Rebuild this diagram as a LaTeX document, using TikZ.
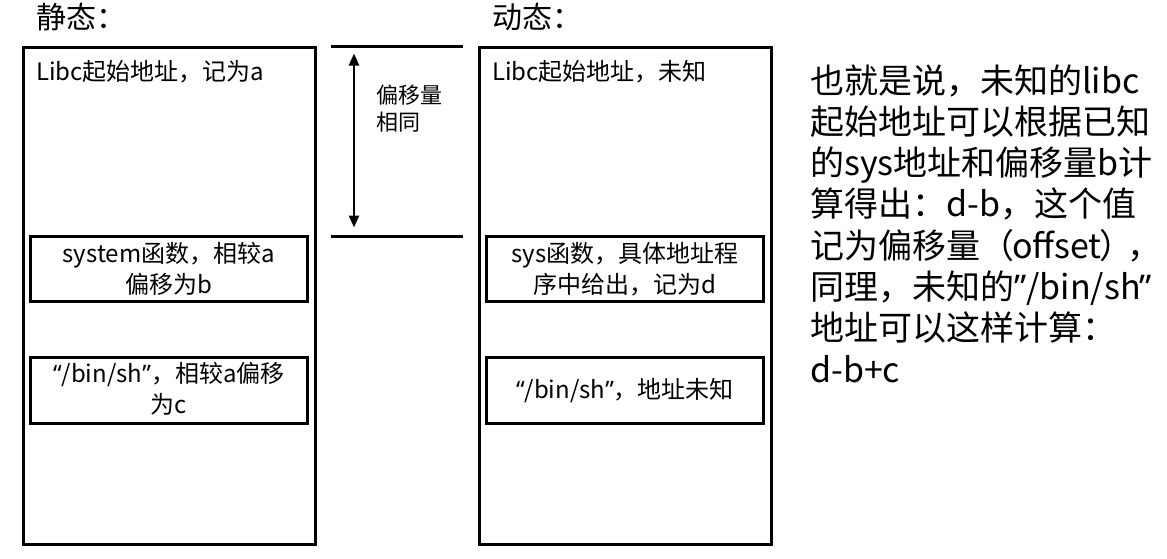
\documentclass[tikz,border=0pt]{standalone}
\usepackage{fontspec}
\setmainfont{Noto Sans CJK SC}
\newfontfamily\lat{Noto Sans}
\usetikzlibrary{arrows.meta}
\begin{document}
\begin{tikzpicture}[x=1pt,y=-1pt,
  bigbox/.style={draw, line width=3pt, inner sep=0pt, minimum width=292pt, minimum height=497pt},
  smallbox/.style={draw, line width=3pt, inner sep=0pt, minimum width=277pt, minimum height=65.5pt},
  boxtext/.style={inner sep=0pt, align=center, font=\fontsize{24}{31}\selectfont},
  plaintext/.style={inner sep=0pt, anchor=base west, font=\fontsize{24}{31}\selectfont},
  title/.style={inner sep=0pt, anchor=base west, font=\fontsize{30}{36}\selectfont},
  para/.style={inner sep=0pt, anchor=base west, font=\fontsize{34}{41}\selectfont},
  small/.style={inner sep=0pt, anchor=base west, font=\fontsize{22}{27}\selectfont},
  rule/.style={line width=3pt},
  dblarrow/.style={line width=2.5pt, >={Triangle[length=12pt,width=10pt]}, <->}
]
\useasboundingbox (0,0) rectangle (1167,558);

% titles
\node[title] (tstatic) at (36,28.5) {静态：};
\node[title] (tdynamic) at (492,28.5) {动态：};

% big boxes
\node[bigbox] (static) at (169,295.5) {};
\node[bigbox] (dynamic) at (625,295.5) {};

% inner boxes
\node[smallbox] (sys1) at (168.8,269) {};
\node[smallbox] (sh1) at (168.8,390.5) {};
\node[smallbox] (sys2) at (625,269) {};
\node[smallbox] (sh2) at (625,390.5) {};

% texts in boxes
\node[plaintext] (libc1) at (36,80) {Libc起始地址，记为a};
\node[plaintext] (libc2) at (492,80) {Libc起始地址，未知};
\node[boxtext] (sys1t) at (sys1.center) {system函数，相较a\\偏移为b};
\node[boxtext] (sh1t) at ([yshift=1.5pt]sh1.center) {{\lat “}/bin/sh{\lat ”}，相较a偏移\\为c};
\node[boxtext] (sys2t) at (sys2.center) {sys函数，具体地址程\\序中给出，记为d};
\node[boxtext] (sh2t) at (sh2.center) {{\lat “}/bin/sh{\lat ”}，地址未知};

% offset marker
\coordinate (l1a) at (331,46.5);
\coordinate (l1b) at (463,46.5);
\coordinate (l2a) at (331,236.5);
\coordinate (l2b) at (463,236.5);
\draw[rule] (l1a) -- (l1b);
\draw[rule] (l2a) -- (l2b);
\coordinate (a1) at (354,46.5);
\coordinate (a2) at (354,236.5);
\draw[dblarrow, shorten <=7pt, shorten >=9pt] (a1) -- (a2);
\node[small] (off1) at (376,103.5) {偏移量};
\node[small] (off2) at (376,130.5) {相同};

% explanation
\node[para] (r1) at (810,93) {也就是说，未知的libc};
\node[para] (r2) at (810,134.3) {起始地址可以根据已知};
\node[para] (r3) at (810,175.6) {的sys地址和偏移量b计};
\node[para] (r4) at (810,216.9) {算得出：d-b，这个值};
\node[para] (r5) at (810,258.2) {记为偏移量（\kern-2pt offset\kern-2pt）\kern-6pt\makebox[0pt][l]{，}};
\node[para] (r6) at (810,299.5) {同理，未知的{\lat ”}/bin/sh\kern-1pt{\lat ”}};
\node[para] (r7) at (810,340.8) {地址可以这样计算：};
\node[para] (r8) at (810,382.1) {d-b+c};
\end{tikzpicture}
\end{document}
